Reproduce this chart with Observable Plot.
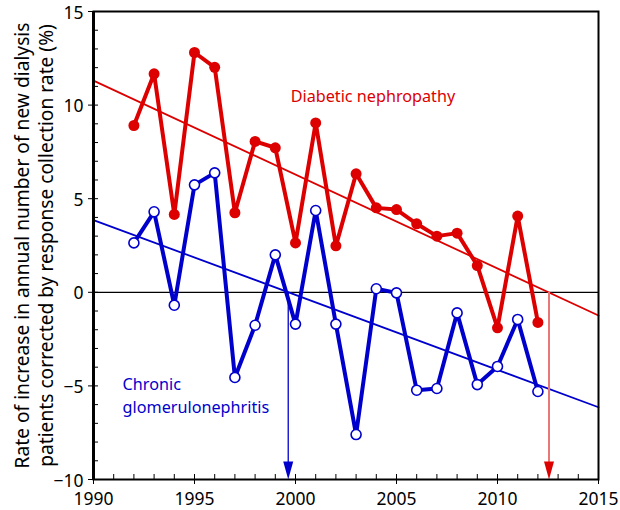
<!DOCTYPE html>
<html><head><meta charset="utf-8">
<script src="https://cdn.jsdelivr.net/npm/d3@7"></script>
<script src="https://cdn.jsdelivr.net/npm/@observablehq/plot@0.6"></script>
<style>body{margin:0;background:#fff} svg{display:block}</style>
</head><body><div id="chart"></div>
<script>
const years = [1992,1993,1994,1995,1996,1997,1998,1999,2000,2001,2002,2003,2004,2005,2006,2007,2008,2009,2010,2011,2012];
const diabetic = [8.91,11.67,4.16,12.81,12.02,4.25,8.06,7.72,2.64,9.05,2.48,6.33,4.51,4.42,3.66,3.00,3.16,1.43,-1.90,4.07,-1.61];
const glomerulo = [2.64,4.30,-0.69,5.74,6.38,-4.55,-1.76,2.00,-1.70,4.37,-1.70,-7.60,0.19,-0.03,-5.23,-5.14,-1.10,-4.93,-3.96,-1.45,-5.30];
const trendYears = [1990, 2015];
const diabeticTrend = [11.31, -1.24];
const glomeruloTrend = [3.86, -6.14];
const diabeticCross = 2012.55;
const glomeruloCross = 1999.64;
const majorXTicks = [1990,1995,2000,2005,2010,2015];
const majorYTicks = [-10,-5,0,5,10,15];
const labels = [
  {x: 1999.76, y: 10.42, text: "Diabetic nephropathy", color: "#dd0000"},
  {x: 1991.44, y: -4.96, text: "Chronic", color: "#0000cc"},
  {x: 1991.44, y: -6.15, text: "glomerulonephritis", color: "#0000cc"}
];
const RED = "#dd0000", BLUE = "#0000cc";

const dData = years.map((yr, i) => ({year: yr, v: diabetic[i]}));
const gData = years.map((yr, i) => ({year: yr, v: glomerulo[i]}));
const dTrend = trendYears.map((yr, i) => ({year: yr, v: diabeticTrend[i]}));
const gTrend = trendYears.map((yr, i) => ({year: yr, v: glomeruloTrend[i]}));

const arrowHead = {draw(ctx) { ctx.moveTo(0, 0); ctx.lineTo(-5, -18); ctx.lineTo(5, -18); ctx.closePath(); }};

const chart = Plot.plot({
  width: 620, height: 510,
  marginLeft: 93, marginRight: 22, marginTop: 11, marginBottom: 31,
  style: {fontFamily: "Noto Sans", fontSize: "17px", color: "black", background: "white", overflow: "visible"},
  x: {domain: [1990, 2015]},
  y: {domain: [-10, 15]},
  marks: [
    Plot.ruleY([0], {stroke: "black", strokeWidth: 1.2}),
    Plot.line(dTrend, {x: "year", y: "v", stroke: RED, strokeWidth: 1.8}),
    Plot.line(gTrend, {x: "year", y: "v", stroke: BLUE, strokeWidth: 1.8}),
    Plot.ruleX([glomeruloCross], {y1: 0, y2: -9.2, stroke: BLUE, strokeWidth: 1.3}),
    Plot.ruleX([diabeticCross], {y1: 0, y2: -9.2, stroke: "#e87878", strokeWidth: 2}),
    Plot.dot([glomeruloCross], {x: d => d, y: -10, symbol: arrowHead, fill: BLUE, stroke: "none", r: 1}),
    Plot.dot([diabeticCross], {x: d => d, y: -10, symbol: arrowHead, fill: RED, stroke: "none", r: 1}),
    Plot.line(dData, {x: "year", y: "v", stroke: RED, strokeWidth: 4, strokeLinejoin: "round"}),
    Plot.line(gData, {x: "year", y: "v", stroke: BLUE, strokeWidth: 4, strokeLinejoin: "round"}),
    Plot.dot(dData, {x: "year", y: "v", r: 5.5, fill: RED, stroke: "none"}),
    Plot.dot(gData, {x: "year", y: "v", r: 5, fill: "white", stroke: BLUE, strokeWidth: 1.6}),
    Plot.text(labels, {x: "x", y: "y", text: "text", fill: "color", textAnchor: "start", fontSize: 16.2}),
    Plot.frame({stroke: "black", strokeWidth: 2}),
    Plot.ruleX([1990], {stroke: "black", strokeWidth: 3}),
    Plot.axisX({ticks: majorXTicks, tickSize: 5, tickPadding: 8, tickFormat: d => String(d), fontSize: 17.5, label: null}),
    Plot.axisX({ticks: d3.range(1990, 2016), tickSize: -5, text: null, label: null}),
    Plot.axisY({ticks: majorYTicks, tickSize: 5, text: null, label: null}),
    Plot.text(majorYTicks, {frameAnchor: "left", y: d => d, dx: -10, dy: 1.5, textAnchor: "end", fontSize: 17.5, fill: "black", text: d => d < 0 ? "\u2212" + Math.abs(d) : String(d)}),
    Plot.axisY({ticks: d3.range(-10, 16), tickSize: -5, text: null, label: null}),
    Plot.text(["Rate of increase in annual number of new dialysis"], {frameAnchor: "left", dx: -71, rotate: -90, textAnchor: "middle", fontSize: 19.2, fill: "black"}),
    Plot.text(["patients corrected by response collection rate (%)"], {frameAnchor: "left", dx: -47, rotate: -90, textAnchor: "middle", fontSize: 19.2, fill: "black"})
  ]
});
document.getElementById("chart").append(chart);
</script>
</body></html>
